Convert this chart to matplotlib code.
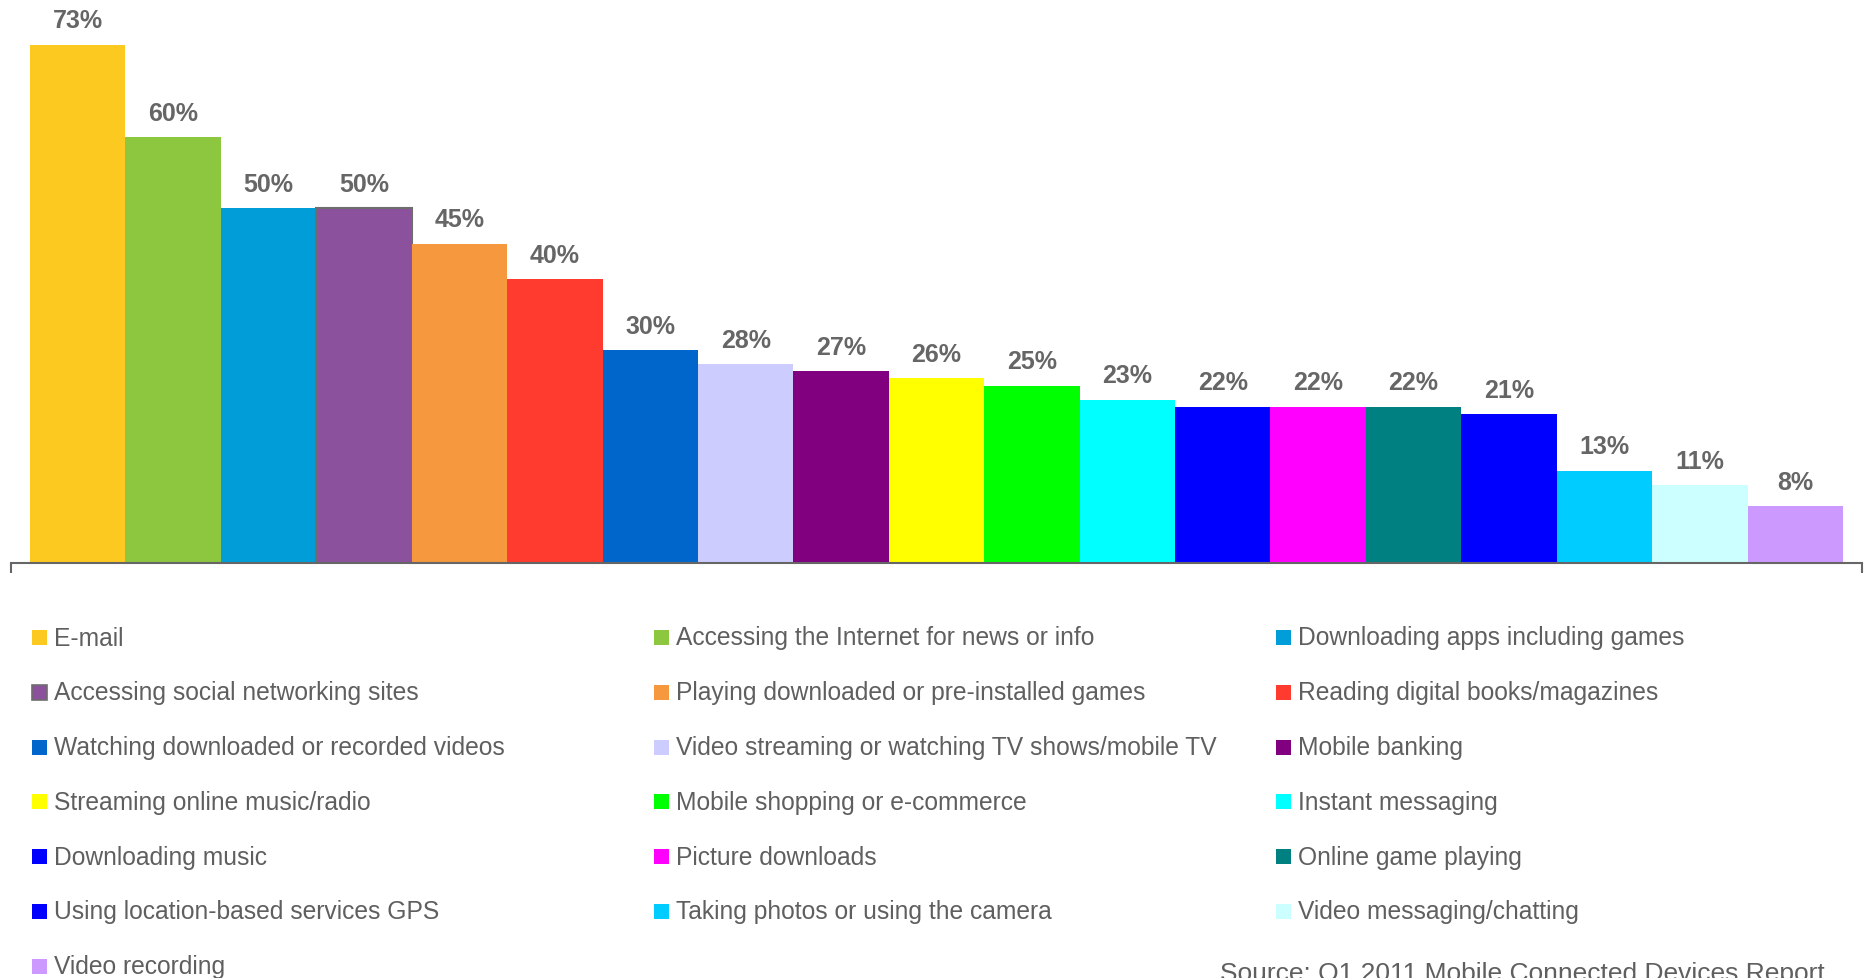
import matplotlib.pyplot as plt
from matplotlib.patches import Rectangle

plt.rcParams['font.family'] = ['Liberation Sans', 'DejaVu Sans']

activities = [
    "E-mail",
    "Accessing the Internet for news or info",
    "Downloading apps including games",
    "Accessing social networking sites",
    "Playing downloaded or pre-installed games",
    "Reading digital books/magazines",
    "Watching downloaded or recorded videos",
    "Video streaming or watching TV shows/mobile TV",
    "Mobile banking",
    "Streaming online music/radio",
    "Mobile shopping or e-commerce",
    "Instant messaging",
    "Downloading music",
    "Picture downloads",
    "Online game playing",
    "Using location-based services GPS",
    "Taking photos or using the camera",
    "Video messaging/chatting",
    "Video recording",
]
shares = [73, 60, 50, 50, 45, 40, 30, 28, 27, 26, 25, 23, 22, 22, 22, 21, 13, 11, 8]
colors = [
    "#FCC920", "#8DC63F", "#019DD8", "#8B519C", "#F6983E", "#FF3B2F",
    "#0066CC", "#CCCCFF", "#800080", "#FFFF00", "#00FF00", "#00FFFF",
    "#0000FF", "#FF00FF", "#008080", "#0000FF", "#00CCFF", "#CCFFFF",
    "#CC99FF",
]
source = "Source: Q1 2011 Mobile Connected Devices Report"

W, H = 1868, 979
grey = "#666666"
txt = "#5f5f5f"

fig = plt.figure(figsize=(W / 100, H / 100), dpi=100)
base = 564
ax = fig.add_axes([11 / W, 1 - base / H, 1851 / W, base / H])

x = list(range(len(shares)))
bars = ax.bar(x, shares, width=1.0, color=colors, linewidth=0)
# the social networking bar carries a thin outline
bars[3].set_edgecolor("#6e6e6e")
bars[3].set_linewidth(1.5)

for xi, v in zip(x, shares):
    ax.annotate(f"{v}%", (xi, v), xytext=(0, 12.5), textcoords="offset points",
                ha="center", va="baseline", fontsize=18, fontweight="bold",
                color=grey)

ax.set_xlim(-0.699, len(shares) - 1 + 0.699)
ax.set_ylim(0, base / 7.1)
for s in ["top", "left", "right"]:
    ax.spines[s].set_visible(False)
ax.spines["bottom"].set_color(grey)
ax.spines["bottom"].set_linewidth(1.5)
ax.set_xticks(ax.get_xlim())
ax.set_xticklabels([])
ax.tick_params(axis="x", direction="out", length=7.5, width=1.5, color=grey)
ax.set_yticks([])

# legend laid out row by row in three columns
for i, (name, c) in enumerate(zip(activities, colors)):
    col, row = i % 3, i // 3
    px = 32 + col * 622
    py = 638.5 + row * 54.8
    sq = 15
    fig.patches.append(Rectangle((px / W, 1 - (py + sq / 2) / H), sq / W, sq / H,
                                 transform=fig.transFigure, facecolor=c,
                                 edgecolor="#6e6e6e" if i == 3 else "none",
                                 linewidth=1.2))
    fig.text((px + 22) / W, 1 - py / H, name, ha="left", va="center",
             fontsize=17.7, color=txt)

fig.text(1220 / W, 1 - 962 / H, source, ha="left", va="top", fontsize=19,
         color=txt)

fig.savefig("out.png", dpi=100, facecolor="white")
